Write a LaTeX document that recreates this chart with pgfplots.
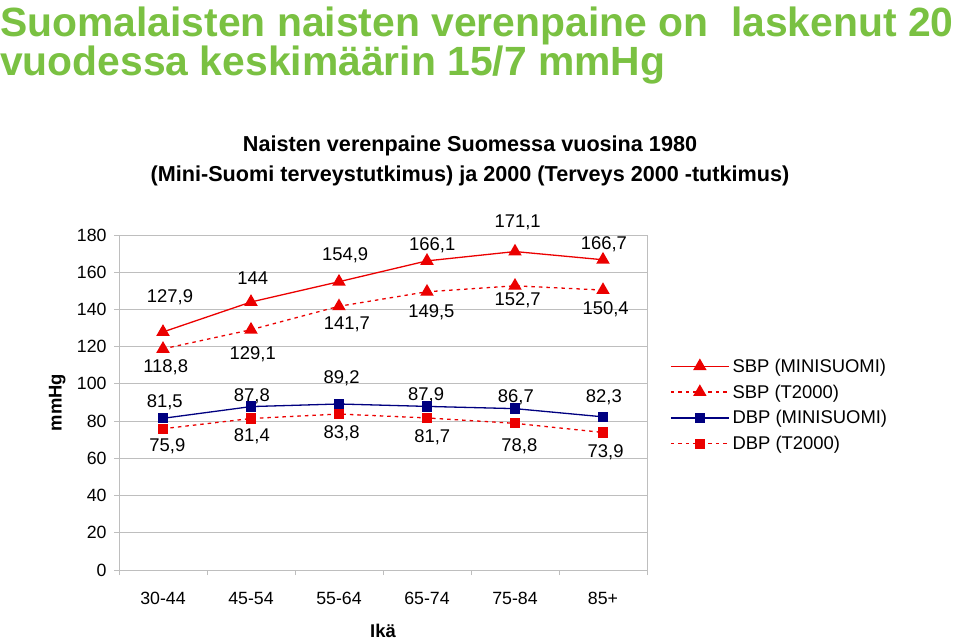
\documentclass[border=0pt]{standalone}
\usepackage{fontspec}
\setmainfont{Liberation Sans}
\usepackage{pgfplots}
\pgfplotsset{compat=1.18}

\definecolor{titlegreen}{RGB}{122,193,66}
\definecolor{sbpred}{RGB}{235,0,0}
\definecolor{dbpblue}{RGB}{0,0,128}
\definecolor{gridgray}{RGB}{190,190,190}

\newcommand{\lbl}{\fontsize{18.5}{21}\selectfont}

\begin{document}
\begin{tikzpicture}
\path[use as bounding box] (0bp,0bp) rectangle (960bp,641bp);

% slide title
\node[anchor=base west, inner sep=0, text=titlegreen, font=\bfseries\fontsize{41}{45}\selectfont]
  at (0bp,604bp) {Suomalaisten naisten verenpaine on\ \ laskenut 20};
\node[anchor=base west, inner sep=0, text=titlegreen, font=\bfseries\fontsize{41}{45}\selectfont]
  at (0bp,565bp) {vuodessa keskimäärin 15/7 mmHg};

% chart title
\node[anchor=base, inner sep=0, font=\bfseries\fontsize{21.7}{24}\selectfont]
  at (470bp,489bp) {Naisten verenpaine Suomessa vuosina 1980};
\node[anchor=base, inner sep=0, font=\bfseries\fontsize{21.7}{24}\selectfont]
  at (470bp,459bp) {(Mini-Suomi terveystutkimus) ja 2000 (Terveys 2000 -tutkimus)};

\begin{axis}[
    at={(119bp,71bp)}, anchor=south west,
    scale only axis, width=528bp, height=335bp,
    xmin=-0.5, xmax=5.5, ymin=0, ymax=180,
    clip=false,
    xtick={0,...,5},
    xticklabels={30-44,45-54,55-64,65-74,75-84,85+},
    major x tick style={draw=none},
    minor xtick={-0.5,0.5,1.5,2.5,3.5,4.5,5.5},
    minor tick length=5bp,
    major tick length=5bp,
    ytick={0,20,...,180},
    tick align=outside,
    tick pos=left,
    tick style={gridgray, line width=0.8bp},
    axis line style={gridgray, line width=0.8bp},
    ymajorgrids,
    major grid style={gridgray, line width=0.8bp},
    /pgf/number format/assume math mode=true,
    ticklabel style={font=\fontsize{17.8}{20}\selectfont},
    xticklabel style={yshift=-14bp},
    yticklabel style={xshift=-4bp},
    xlabel={Ikä},
    xlabel style={at={(axis description cs:0.5,-0.182)}, anchor=center, font=\bfseries\fontsize{18.5}{21}\selectfont},
    ylabel={mmHg},
    ylabel style={at={(axis description cs:-0.117,0.5)}, anchor=center, font=\bfseries\fontsize{18.5}{21}\selectfont},
    legend style={at={(axis description cs:1.0436,0.4925)}, anchor=west, draw=none, fill=none,
      font=\lbl, row sep=11bp, inner sep=0pt, nodes={inner sep=0pt, inner xsep=3bp}},
    legend cell align=left,
    legend image code/.code={\draw[mark repeat=2,mark phase=2,#1] plot coordinates {(0bp,0bp) (29bp,0bp) (58bp,0bp)};},
]
\addplot[sbpred, line width=1.3bp, mark=triangle*, mark size=6.5bp]
  coordinates {(0,127.9) (1,144) (2,154.9) (3,166.1) (4,171.1) (5,166.7)};
\addlegendentry{SBP (MINISUOMI)}
\addplot[sbpred, line width=1.3bp, dash pattern=on 3.5bp off 4bp, mark=triangle*, mark size=6.5bp, mark options={solid}]
  coordinates {(0,118.8) (1,129.1) (2,141.7) (3,149.5) (4,152.7) (5,150.4)};
\addlegendentry{SBP (T2000)}
\addplot[dbpblue, line width=1.3bp, mark=square*, mark size=4.5bp]
  coordinates {(0,81.5) (1,87.8) (2,89.2) (3,87.9) (4,86.7) (5,82.3)};
\addlegendentry{DBP (MINISUOMI)}
\addplot[sbpred, line width=1.3bp, dash pattern=on 3.5bp off 4bp, mark=square*, mark size=4.5bp, mark options={solid}]
  coordinates {(0,75.9) (1,81.4) (2,83.8) (3,81.7) (4,78.8) (5,73.9)};
\addlegendentry{DBP (T2000)}

% data labels
\begin{scope}[every node/.style={font=\lbl, inner sep=0}]
\node at (axis cs:0.08,146.8) {127,9};
\node at (axis cs:1.02,156.9) {144};
\node at (axis cs:2.07,169.3) {154,9};
\node at (axis cs:3.06,174.6) {166,1};
\node at (axis cs:4.03,187.0) {171,1};
\node at (axis cs:5.01,175.2) {166,7};
\node at (axis cs:0.03,109.1) {118,8};
\node at (axis cs:1.02,116.1) {129,1};
\node at (axis cs:2.09,132.2) {141,7};
\node at (axis cs:3.05,138.6) {149,5};
\node at (axis cs:4.03,145.1) {152,7};
\node at (axis cs:5.03,140.2) {150,4};
\node at (axis cs:0.02,90.3) {81,5};
\node at (axis cs:1.01,93.5) {87,8};
\node at (axis cs:2.03,103.2) {89,2};
\node at (axis cs:2.99,94.0) {87,9};
\node at (axis cs:4.01,93.0) {86,7};
\node at (axis cs:5.01,93.0) {82,3};
\node at (axis cs:0.05,66.6) {75,9};
\node at (axis cs:1.01,72.0) {81,4};
\node at (axis cs:2.03,73.6) {83,8};
\node at (axis cs:3.06,71.5) {81,7};
\node at (axis cs:4.05,66.6) {78,8};
\node at (axis cs:5.03,63.4) {73,9};
\end{scope}
\end{axis}
\end{tikzpicture}
\end{document}
